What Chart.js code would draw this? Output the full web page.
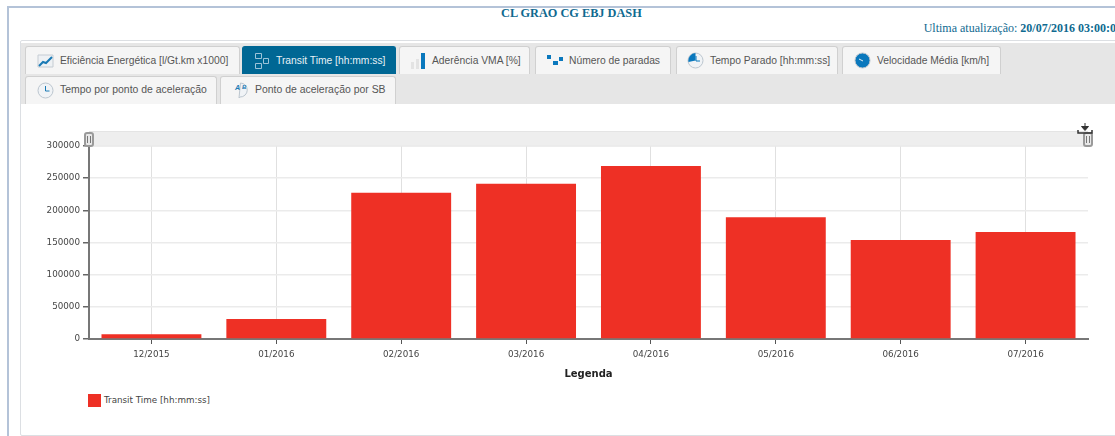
<!DOCTYPE html>
<html>
<head>
<meta charset="utf-8">
<style>
html, body { margin: 0; padding: 0; background: #fff; width: 1115px; height: 436px; overflow: hidden; }
.abs { position: absolute; }
#frameTop { left: 7px; top: 6px; width: 1108px; height: 2px; background: #b4c3d8; }
#frameLeft { left: 7px; top: 6px; width: 2px; height: 430px; background: #b4c3d8; }
#title { left: 501px; top: 6px; font: bold 12.3px "Liberation Serif", serif; color: #0f6a90; white-space: nowrap; }
#updated { right: -7px; top: 21px; font: 12px "Liberation Serif", serif; color: #0f6a90; white-space: nowrap; }
#updated b { font-weight: bold; }
#panel { left: 20px; top: 40px; width: 1110px; height: 394px; border: 1px solid #dcdfe3; border-radius: 2px; }
#tabbar { left: 21px; top: 43px; width: 1094px; height: 61px; background: #e6e6e6; }
.tab { position: absolute; height: 28px; box-sizing: border-box; background: #f5f5f5; border: 1px solid #d0d0d0; border-bottom: none; border-radius: 3px 3px 0 0; font: 10.3px "Liberation Sans", Arial, sans-serif; color: #555; line-height: 27px; white-space: nowrap; }
.tab.row2 { font-size: 10.45px; line-height: 26px; }
.tab.on { background: #006794; border-color: #006794; color: #e8f1f6; }
.tab span { position: absolute; top: 0; }
.tab i { position: absolute; top: 5px; display: block; line-height: 0; }
#band { left: 89px; top: 131px; width: 999px; height: 16px; background: #eeeeee; border-top: 1px solid #e4e4e4; box-sizing: border-box; }
.grip { position: absolute; top: 132px; width: 10px; height: 15px; box-sizing: border-box; background: #e8e8e8; border: 2px solid #9a9a9a; border-radius: 3px; z-index: 3; }
.grip::after { content: ''; position: absolute; left: 1px; top: 2px; width: 2px; height: 7px; border-left: 1px solid #777; border-right: 1px solid #777; }
#chart { position: absolute; left: 0; top: 0; z-index: 2; }
#legend { left: 88px; top: 394px; font: 8.75px "DejaVu Sans", Verdana, sans-serif; color: #444; line-height: 13px; white-space: nowrap; }
#legend i { display: inline-block; width: 13px; height: 13px; margin-right: 3px; vertical-align: top; }
</style>
</head>
<body>
<div class="abs" id="frameTop"></div>
<div class="abs" id="frameLeft"></div>
<div class="abs" id="title">CL GRAO CG EBJ DASH</div>
<div class="abs" id="updated">Ultima atualização: <b>20/07/2016 03:00:00</b></div>
<div class="abs" id="panel"></div>
<div class="abs" id="tabbar"></div>
<div class="tab" style="left:25px;top:46px;width:215px"><i style="left:11px"><svg width="17" height="17"><path d="M1 15 L16 15 L16 3 L1 3 Z" fill="#eef1f4" stroke="#c5ccd3"/><path d="M2 14 L6 10 L9 11 L15 5" fill="none" stroke="#1a7ab5" stroke-width="2"/></svg></i><span style="left:34px">Eficiência Energética [l/Gt.km x1000]</span></div>
<div class="tab on" style="left:242px;top:46px;width:154px"><i style="left:11px"><svg width="16" height="18"><path d="M1.500 1.500h6v5h-6zM9.500 6.500h5v5h-5zM1.500 11.500h6v5h-6z" fill="none" stroke="#9cc3d8"/></svg></i><span style="left:33px">Transit Time [hh:mm:ss]</span></div>
<div class="tab" style="left:399px;top:46px;width:131px"><i style="left:10px"><svg width="16" height="18"><rect x="1" y="10" width="3" height="7" fill="#e3e3e3"/><rect x="6" y="7" width="3" height="10" fill="#e3e3e3"/><rect x="11" y="1" width="4" height="16" fill="#0a78bd"/></svg></i><span style="left:32px">Aderência VMA [%]</span></div>
<div class="tab" style="left:535px;top:46px;width:136px"><i style="left:10px"><svg width="18" height="17"><rect x="1" y="3" width="4" height="4" fill="#0a78bd"/><rect x="7" y="9" width="5" height="4" fill="#0a78bd"/><rect x="13" y="5" width="4" height="4" fill="#0a78bd"/></svg></i><span style="left:33px">Número de paradas</span></div>
<div class="tab" style="left:676px;top:46px;width:162px"><i style="left:10px"><svg width="17" height="17"><circle cx="8.500" cy="8.500" r="7.500" fill="#f0f3f6" stroke="#bcc6cf"/><path d="M8.500 8.500 L8.500 1 A7.500 7.500 0 0 0 1.500 10 Z" fill="#0a78bd"/><path d="M9 4v5h4" fill="none" stroke="#0a78bd"/></svg></i><span style="left:33px">Tempo Parado [hh:mm:ss]</span></div>
<div class="tab" style="left:842px;top:46px;width:159px"><i style="left:11px"><svg width="17" height="17"><circle cx="8.500" cy="8.500" r="7.500" fill="#0a78bd" stroke="#bcc6cf"/><path d="M5 7l4 2" stroke="#e8f1f6"/></svg></i><span style="left:34px">Velocidade Média [km/h]</span></div>
<div class="tab row2" style="left:25px;top:76px;width:192px"><i style="left:11px"><svg width="17" height="17"><circle cx="8.500" cy="8.500" r="7.500" fill="#f0f3f6" stroke="#bcc6cf"/><path d="M8.500 4v5h4" fill="none" stroke="#1a7ab5"/></svg></i><span style="left:34px">Tempo por ponto de aceleração</span></div>
<div class="tab row2" style="left:220px;top:76px;width:176px"><i style="left:11px"><svg width="17" height="17"><path d="M8.500 1 A7 7 0 1 1 8 15 L7 16 Z" fill="#f0f3f6" stroke="#bcc6cf"/><text x="3" y="8" font-size="7" font-weight="bold" font-family="Liberation Sans" fill="#1a7ab5">A</text><text x="10" y="7" font-size="6" font-weight="bold" font-family="Liberation Sans" fill="#1a7ab5">B</text></svg></i><span style="left:34px">Ponto de aceleração por SB</span></div>
<div class="abs" id="band"></div>
<div class="grip" style="left:84px"></div>
<div class="grip" style="left:1083px"></div>
<div class="abs" style="left:1077px;top:120px;z-index:3"><svg width="16" height="11"><path d="M8 0v6M4.500 3.500 L8 7.500 L11.500 3.500Z" fill="#333" stroke="#333"/><path d="M1 7v3h14V7" fill="none" stroke="#333" stroke-width="1.500"/></svg></div>
<canvas id="chart" width="1115" height="436"></canvas>
<div class="abs" id="legend"></div>
<script src="https://cdn.jsdelivr.net/npm/chart.js@4/dist/chart.umd.min.js"></script>
<script>
const categories = ['12/2015', '01/2016', '02/2016', '03/2016', '04/2016', '05/2016', '06/2016', '07/2016'];
const transitTime = [7500, 31000, 227400, 241400, 269000, 189200, 154000, 166500];
const yTicks = [0, 50000, 100000, 150000, 200000, 250000, 300000];
const seriesName = 'Transit Time [hh:mm:ss]';
const axisTitle = 'Legenda';
const barColor = '#ee3025';

const chartFont = '"DejaVu Sans", Verdana, sans-serif';

new Chart(document.getElementById('chart').getContext('2d'), {
    type: 'bar',
    data: {
        labels: categories,
        datasets: [{
            label: seriesName,
            data: transitTime,
            backgroundColor: barColor,
            categoryPercentage: 0.8,
            barPercentage: 1
        }]
    },
    options: {
        responsive: false,
        animation: false,
        devicePixelRatio: 1,
        layout: { padding: { left: 29, right: 27, top: 146, bottom: 56 } },
        plugins: {
            tooltip: { enabled: false },
            legend: { display: false }
        },
        scales: {
            x: {
                offset: true,
                afterFit(scale) { scale.height = 41; },
                grid: { offset: false, color: '#e0e0e0', tickColor: '#555', tickLength: 5 },
                border: { color: '#777', width: 2 },
                ticks: { color: '#444', font: { family: chartFont, size: 8.75 }, padding: 5, maxRotation: 0 },
                title: { display: true, text: axisTitle, color: '#222', font: { family: chartFont, size: 10, weight: 'bold' }, padding: { top: 6, bottom: 0 } }
            },
            y: {
                min: 0,
                max: 300000,
                afterFit(scale) { scale.width = 60; },
                afterBuildTicks(scale) { scale.ticks = yTicks.map(v => ({ value: v })); },
                grid: { color: '#ebebeb', lineWidth: 1.5, tickColor: '#666', tickLength: 6 },
                border: { color: '#777', width: 2 },
                ticks: {
                    color: '#444',
                    font: { family: chartFont, size: 8.75 },
                    padding: 3,
                    callback: function(value) { return String(value); }
                }
            }
        }
    }
});

// html legend, the chart's own cannot sit under the plot edge with a wide y axis
const legendEl = document.getElementById('legend');
legendEl.innerHTML = '<i style="background:' + barColor + '"></i>' + seriesName;
</script>
</body>
</html>
